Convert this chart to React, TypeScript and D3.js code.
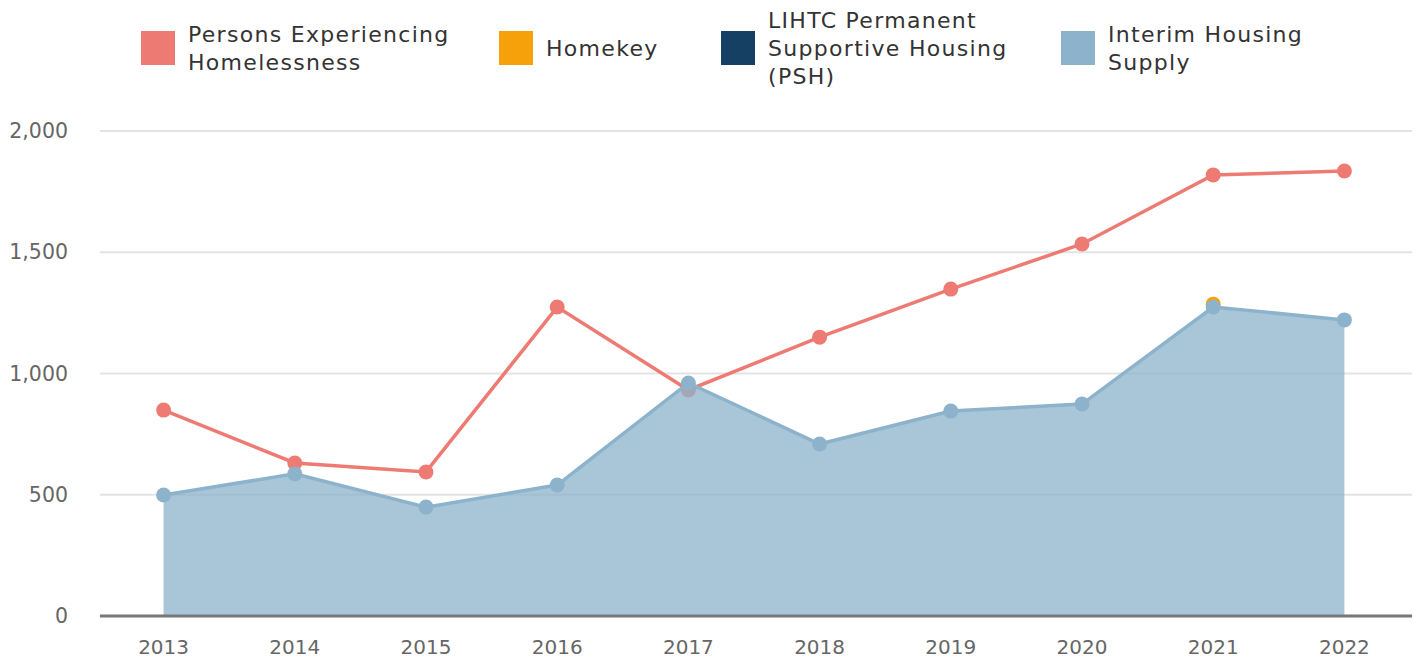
import React from "react";
import * as d3 from "d3";

const years = ["2013", "2014", "2015", "2016", "2017", "2018", "2019", "2020", "2021", "2022"];
const persons = [849, 631, 594, 1274, 932, 1150, 1348, 1534, 1819, 1835];
const interim = [499, 586, 449, 540, 961, 709, 845, 874, 1274, 1221];
const psh = [0, 0, 0, 0, 0, 0, 0, 0, 0, 0];
const homekey = [0, 0, 0, 0, 0, 0, 0, 0, 12, 0];
const yTicks = [0, 500, 1000, 1500, 2000];

const legendItems = [
  { lines: ["Persons Experiencing", "Homelessness"], color: "#ee7b73", x: 141 },
  { lines: ["Homekey"], color: "#f7a10a", x: 499 },
  { lines: ["LIHTC Permanent", "Supportive Housing", "(PSH)"], color: "#163f64", x: 721 },
  { lines: ["Interim Housing", "Supply"], color: "#8cb3cb", x: 1061 },
];

const W = 1416;
const H = 658;
const margin = { top: 131, right: 4, bottom: 41, left: 100 };
const font = "'DejaVu Sans', sans-serif";

export default function App() {
  const x = d3
    .scaleBand()
    .domain(years)
    .range([margin.left, W - margin.right])
    .padding(0);
  const cx = (d: string) => (x(d) as number) + x.bandwidth() / 2 - 2;

  const y = d3
    .scaleLinear()
    .domain([0, 2000])
    .range([H - margin.bottom - 1, margin.top]);

  // stacked series, first key at the bottom
  const table = years.map((yr, i) => ({ year: yr, interim: interim[i], psh: psh[i], homekey: homekey[i] }));
  const stacked = d3.stack<any>().keys(["interim", "psh", "homekey"])(table);
  const stackColors: Record<string, string> = { interim: "#8cb3cb", psh: "#163f64", homekey: "#f7a10a" };

  const area = d3
    .area<any>()
    .x((d) => cx(d.data.year))
    .y0((d) => y(d[0]))
    .y1((d) => y(d[1]));
  const topLine = d3
    .line<any>()
    .x((d) => cx(d.data.year))
    .y((d) => y(d[1]));
  const personsLine = d3
    .line<number>()
    .x((_, i) => cx(years[i]))
    .y((d) => y(d));

  // draw order: homekey, psh, interim (last on top)
  const drawOrder = ["homekey", "psh", "interim"].map((k) => stacked.find((s) => s.key === k)!);

  return (
    <svg width={W} height={H} style={{ position: "absolute", left: 0, top: 0, fontFamily: font }}>
      {/* grid */}
      {yTicks.slice(1).map((t) => (
        <line key={t} x1={margin.left} x2={W - margin.right} y1={y(t)} y2={y(t)} stroke="#e3e3e3" strokeWidth={2} />
      ))}
      {yTicks.map((t) => (
        <text key={t} x={68} y={y(t)} dy="0.35em" textAnchor="end" fontSize={20.5} fill="#666">
          {d3.format(",")(t)}
        </text>
      ))}

      {/* persons line */}
      <path d={personsLine(persons) as string} fill="none" stroke="#ee7b73" strokeWidth={3.5} />
      {persons.map((v, i) => (
        <circle key={i} cx={cx(years[i])} cy={y(v)} r={7.5} fill="#ee7b73" />
      ))}

      {drawOrder.map((s) => {
        const color = stackColors[s.key];
        const filled = s.key === "interim";
        return (
          <g key={s.key}>
            {filled && <path d={area(s) as string} fill={color} fillOpacity={0.75} />}
            {filled && <path d={topLine(s) as string} fill="none" stroke={color} strokeWidth={3.5} />}
            {s.map((d, i) =>
              d[1] - d[0] > 0 ? <circle key={i} cx={cx(d.data.year)} cy={y(d[1])} r={7.5} fill={color} /> : null
            )}
          </g>
        );
      })}

      {/* x axis */}
      <line x1={margin.left} x2={W - margin.right} y1={y(0)} y2={y(0)} stroke="#777" strokeWidth={3} />
      {years.map((yr) => (
        <text key={yr} x={cx(yr)} y={647} dy="0.35em" textAnchor="middle" fontSize={20} fill="#666">
          {yr}
        </text>
      ))}

      {/* legend */}
      {legendItems.map((it) => (
        <g key={it.lines[0]}>
          <rect x={it.x} y={31} width={34} height={34} fill={it.color} />
          {it.lines.map((ln, j) => (
            <text
              key={j}
              x={it.x + 47}
              y={48 + (j - (it.lines.length - 1) / 2) * 28}
              dy="0.35em"
              fontSize={22}
              letterSpacing={1.3}
              fill="#333"
            >
              {ln}
            </text>
          ))}
        </g>
      ))}
    </svg>
  );
}
